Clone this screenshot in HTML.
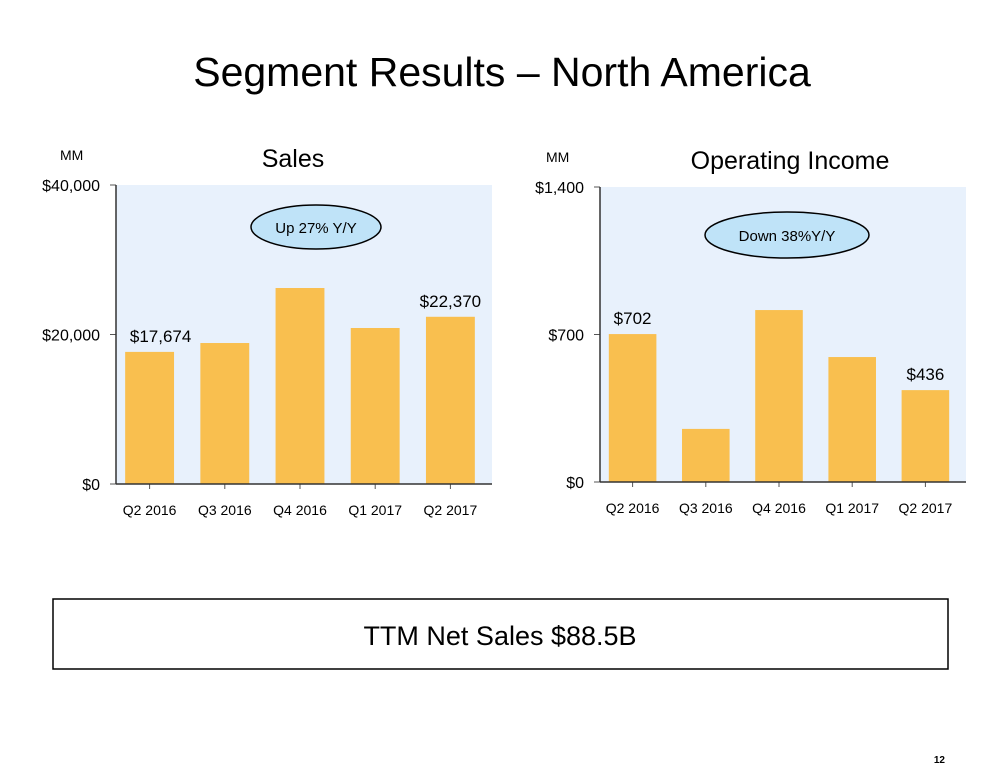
<!DOCTYPE html>
<html><head><meta charset="utf-8"><style>
body{margin:0;background:#fff;font-family:"Liberation Sans",Arial,sans-serif}
svg{display:block}
</style></head><body>
<svg width="1000" height="773" viewBox="0 0 1000 773" xmlns="http://www.w3.org/2000/svg" font-family="Liberation Sans, Arial, sans-serif">
<text x="502" y="86" font-size="41" text-anchor="middle" fill="#000">Segment Results – North America</text>
<g id="left"></g>
<g id="right"></g>
<rect x="53" y="599" width="895" height="70" fill="#fff" stroke="#000" stroke-width="1.5"/>
<text x="500" y="645" font-size="27" text-anchor="middle">TTM Net Sales $88.5B</text>
<text x="945" y="763" font-size="10" font-weight="bold" text-anchor="end">12</text>
</svg>
<script>
const categories=["Q2 2016","Q3 2016","Q4 2016","Q1 2017","Q2 2017"];
const salesValues=[17674,18860,26220,20870,22370];
const salesLabels=["$17,674","","","","$22,370"];
const salesTicks=["$0","$20,000","$40,000"];
const salesTickValues=[0,20000,40000];
const oiValues=[702,252,816,593,436];
const oiLabels=["$702","","","","$436"];
const oiTicks=["$0","$700","$1,400"];
const oiTickValues=[0,700,1400];
const NS="http://www.w3.org/2000/svg";
function mk(p,t,a){const e=document.createElementNS(NS,t);for(const k in a)e.setAttribute(k,a[k]);p.appendChild(e);return e;}
function chart(g,cfg){
  const {x0,x1,y0,y1,max,vals,labels,ticks,tickVals,title,titleX,mmX,ell,ellText,labelDx}=cfg;
  const ys=v=>y0-(v/max)*(y0-y1);
  const slot=(x1-x0)/categories.length, bw=slot*0.65;
  const bg=mk(g,'rect',{x:x0,y:y1,width:x1-x0,height:y0-y1,fill:'#e8f1fc'});
  
  
  let t=mk(g,'text',{x:titleX,y:y1-18,'font-size':25,'text-anchor':'middle'});t.textContent=title;
  
  
  t=mk(g,'text',{x:mmX,y:y1-25,'font-size':14});t.textContent='MM';
  
  
  vals.forEach((v,i)=>{
    const cx=x0+slot*(i+0.5)-4;
    const r=mk(g,'rect',{x:cx-bw/2,y:ys(v),width:bw,height:y0-ys(v),fill:'#f9bf4f'});
    
    
    if(labels[i]){const l=mk(g,'text',{x:cx+labelDx[i],y:ys(v)-10,'font-size':17,'text-anchor':'middle'});l.textContent=labels[i];
      
      }
    mk(g,'line',{x1:cx,x2:cx,y1:y0,y2:y0+5,stroke:'#555'});
    const c=mk(g,'text',{x:cx,y:y0+31,'font-size':14,'text-anchor':'middle'});c.textContent=categories[i];
    
    
  });
  ticks.forEach((tk,i)=>{
    const y=ys(tickVals[i]);
    mk(g,'line',{x1:x0-6,x2:x0,y1:y,y2:y,stroke:'#555'});
    const l=mk(g,'text',{x:x0-16,y:y+6,'font-size':16,'text-anchor':'end'});l.textContent=tk;
    
    
  });
  mk(g,'line',{x1:x0,x2:x0,y1:y1,y2:y0,stroke:'#333','stroke-width':1.5});
  mk(g,'line',{x1:x0,x2:x1,y1:y0,y2:y0,stroke:'#333','stroke-width':1.5});
  const e=mk(g,'ellipse',{cx:ell[0],cy:ell[1],rx:ell[2],ry:ell[3],fill:'#bfe3f8',stroke:'#000','stroke-width':1.5});
  
  
  const et=mk(g,'text',{x:ell[0],y:ell[1]+6,'font-size':15,'text-anchor':'middle'});et.textContent=ellText;
  
  
}
chart(document.getElementById('left'),{x0:116,x1:492,y0:484,y1:185,max:40000,vals:salesValues,labels:salesLabels,ticks:salesTicks,tickVals:salesTickValues,title:'Sales',titleX:293,mmX:60,ell:[316,227,65,22],ellText:'Up 27% Y/Y',labelDx:[11,0,0,0,0]});
chart(document.getElementById('right'),{x0:600,x1:966,y0:482,y1:187,max:1400,vals:oiValues,labels:oiLabels,ticks:oiTicks,tickVals:oiTickValues,title:'Operating Income',titleX:790,mmX:546,ell:[787,235,82,23],ellText:'Down 38%Y/Y',labelDx:[0,0,0,0,0]});
</script>
</body></html>
